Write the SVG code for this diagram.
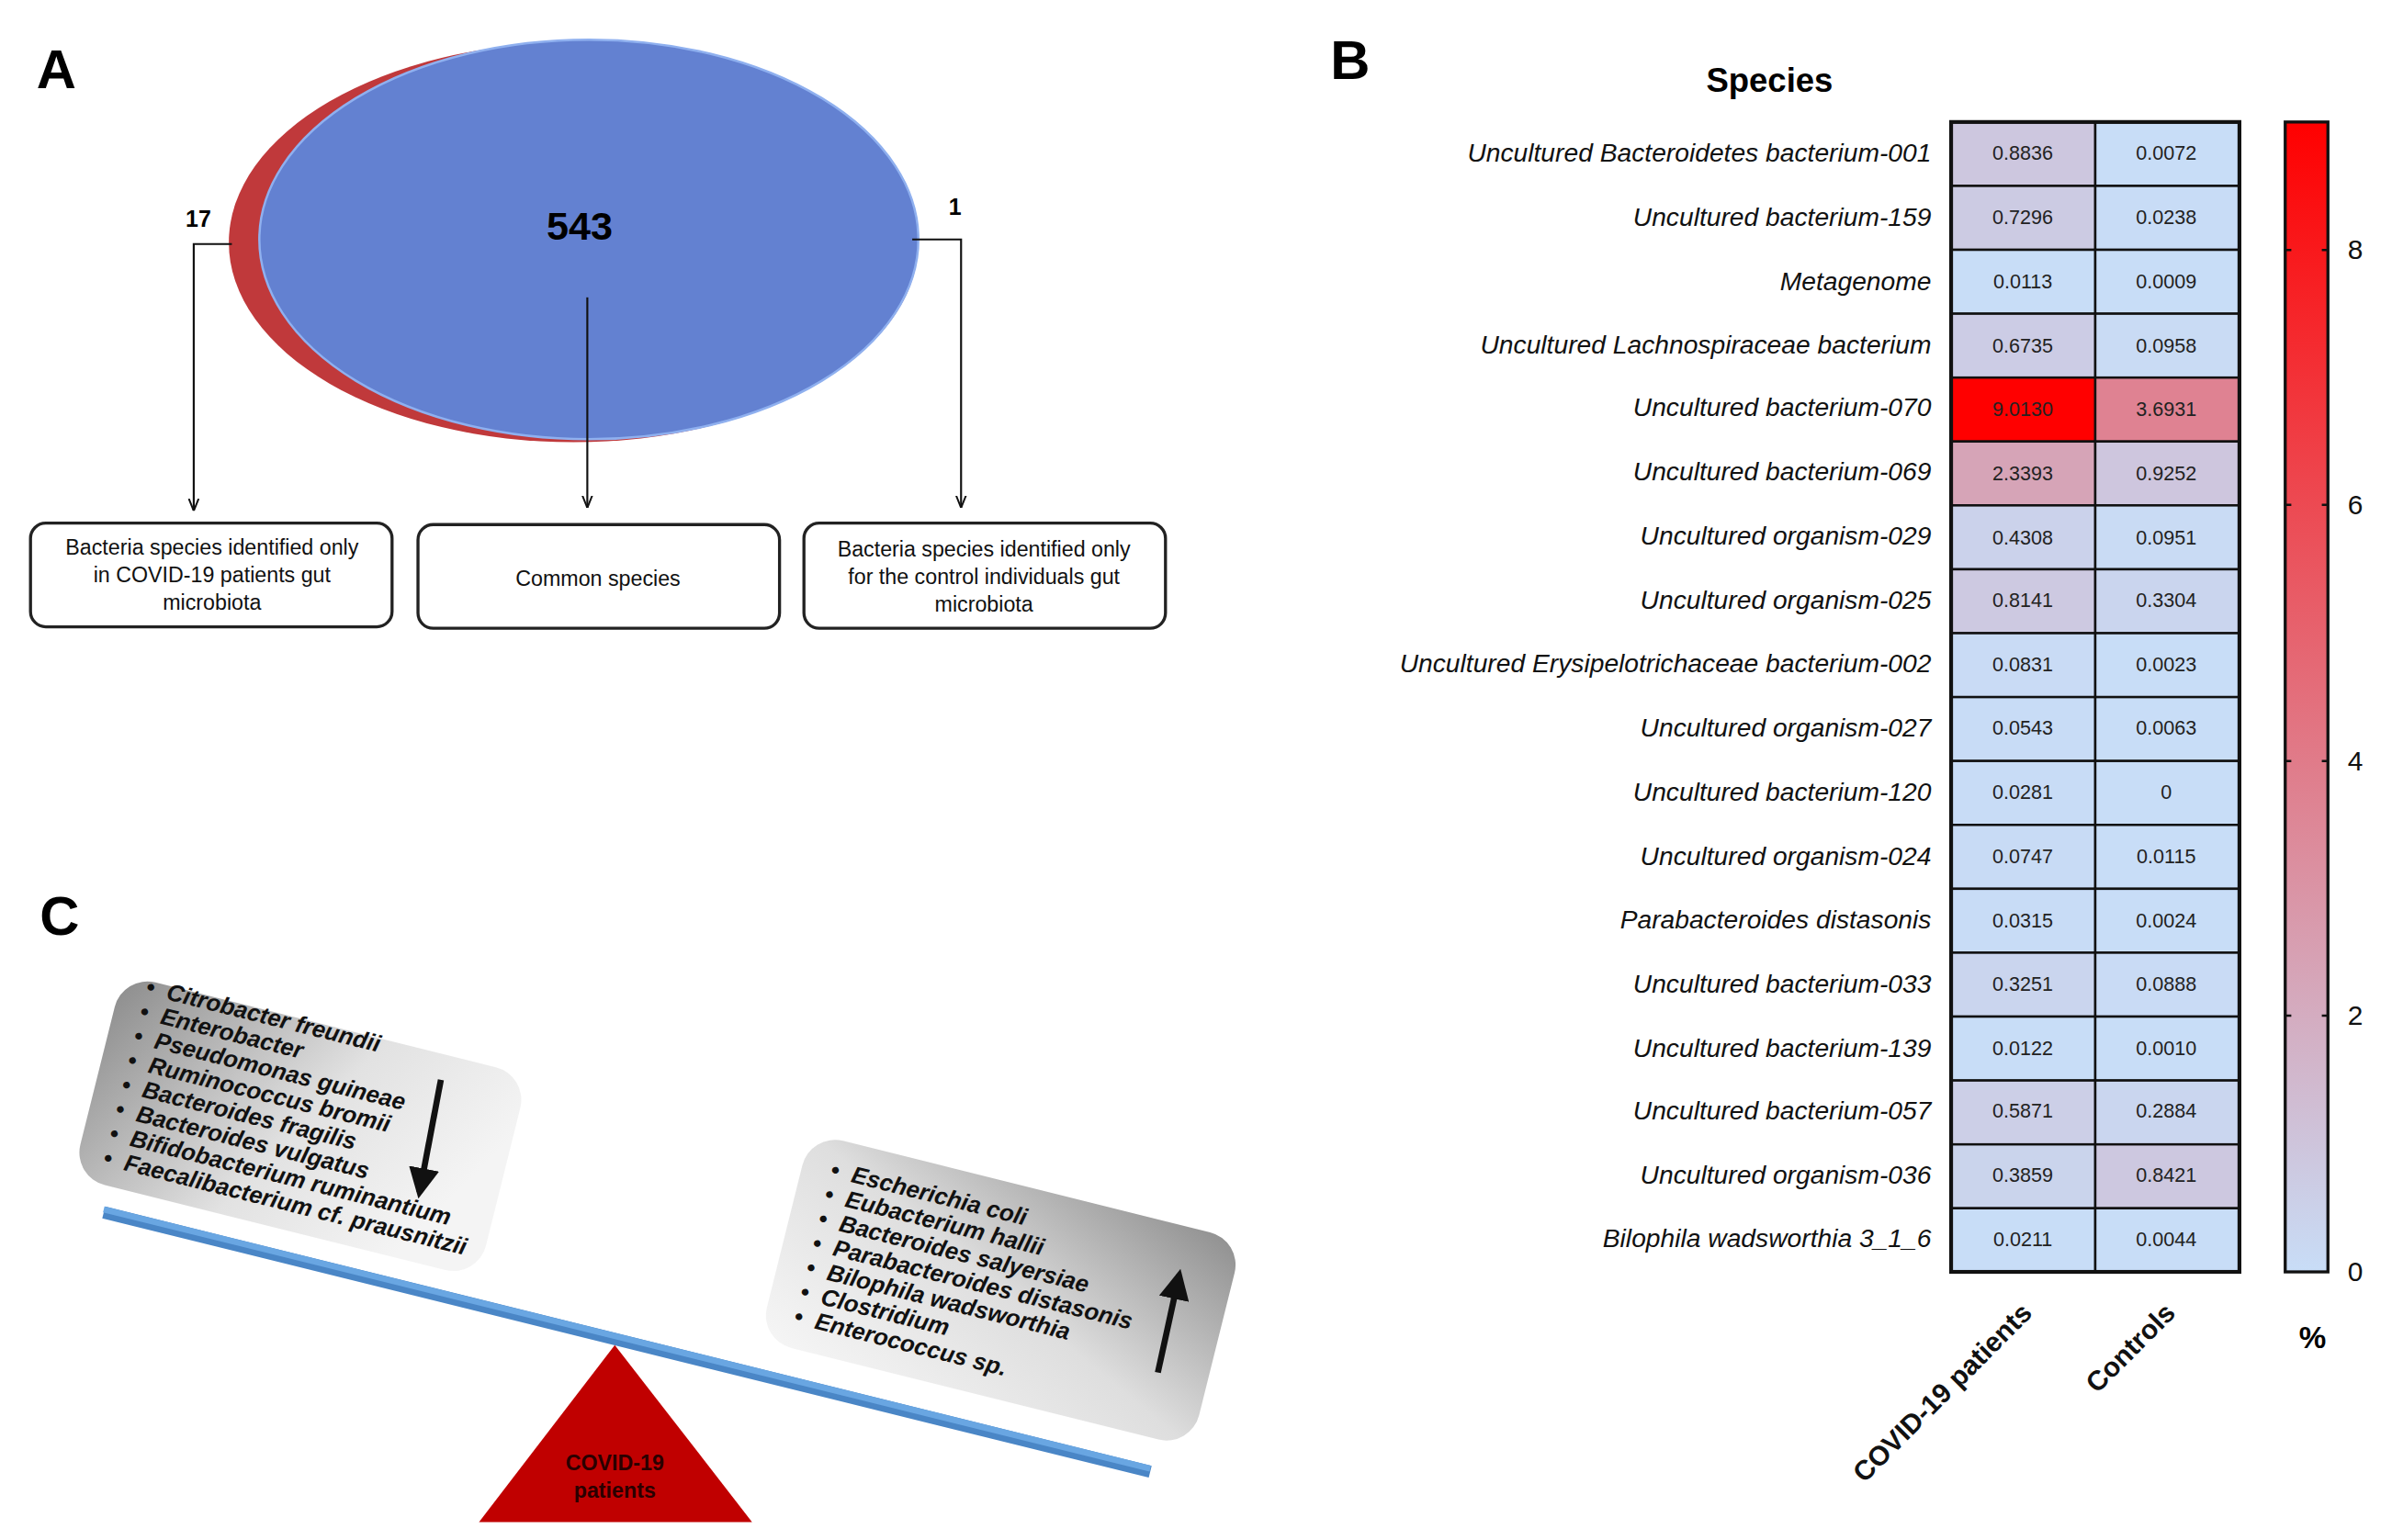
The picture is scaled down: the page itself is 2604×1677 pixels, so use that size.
<svg xmlns="http://www.w3.org/2000/svg" width="2604" height="1677" viewBox="0 0 2604 1677">
<defs>
<style>
.pl{font-family:"Liberation Sans",Arial,sans-serif;font-weight:bold;font-size:36px;fill:#000}
.bx{fill:#fff;stroke:#222;stroke-width:2}
.bt{font-family:"Liberation Sans Narrow","Liberation Sans",sans-serif;font-size:14px;text-anchor:middle;fill:#111}
.ln{stroke:#111;stroke-width:1.3;fill:none}
.sp{font-family:"Liberation Sans",Arial,sans-serif;font-style:italic;font-size:17px;text-anchor:end;fill:#111}
.cv{font-family:"Liberation Sans Narrow","Liberation Sans",sans-serif;font-size:13px;text-anchor:middle;fill:#222}
.cell{stroke:#111;stroke-width:1.5}
.ct{font-family:"Liberation Sans",Arial,sans-serif;font-weight:bold;font-size:18px;text-anchor:end;fill:#111}
.tk{font-family:"Liberation Sans",Arial,sans-serif;font-size:18px;fill:#111}
.ci{font-family:"Liberation Sans Narrow","Liberation Sans",sans-serif;font-weight:bold;font-style:italic;font-size:15.5px;fill:#111}
</style>
<marker id="ah" viewBox="0 0 10 10" refX="10" refY="5" markerWidth="8" markerHeight="8" orient="auto" markerUnits="userSpaceOnUse"><path d="M0,1 L10,5 L0,9" fill="none" stroke="#111" stroke-width="1.5"/></marker>
<marker id="bh" viewBox="0 0 10 10" refX="8" refY="5" markerWidth="5" markerHeight="5" orient="auto"><path d="M0,0 L10,5 L0,10 z" fill="#111"/></marker>
<linearGradient id="cb" x1="0" y1="1" x2="0" y2="0"><stop offset="0" stop-color="#c8ddf7"/><stop offset="0.26" stop-color="#d6a4b7"/><stop offset="1" stop-color="#ff0000"/></linearGradient>
<linearGradient id="gl" x1="0" y1="0" x2="1" y2="0.3"><stop offset="0" stop-color="#8c8c8c"/><stop offset="0.6" stop-color="#e2e2e2"/><stop offset="1" stop-color="#f4f4f4"/></linearGradient>
<linearGradient id="gr" x1="0" y1="1" x2="1" y2="0"><stop offset="0" stop-color="#f6f6f6"/><stop offset="0.5" stop-color="#dedede"/><stop offset="1" stop-color="#8e8e8e"/></linearGradient>
</defs>
<g transform="scale(1.66071)">
<rect x="0" y="0" width="1568" height="1010" fill="#fff"/>
<!-- Panel A -->
<g id="panelA">
<text class="pl" x="24" y="58">A</text>
<ellipse cx="376" cy="159" rx="226" ry="131" fill="#c0393b"/>
<ellipse cx="386" cy="157" rx="216" ry="131" fill="#6381d1" stroke="#8fb0ef" stroke-width="1.5"/>
<text x="380" y="157" font-family="Liberation Sans Narrow,Liberation Sans,sans-serif" font-weight="bold" font-size="26" text-anchor="middle">543</text>
<text x="130" y="149" font-family="Liberation Sans Narrow,Liberation Sans,sans-serif" font-weight="bold" font-size="15" text-anchor="middle">17</text>
<text x="626" y="141" font-family="Liberation Sans Narrow,Liberation Sans,sans-serif" font-weight="bold" font-size="15" text-anchor="middle">1</text>
</g>
<g id="connectorsA">
<path class="ln" d="M152,160 H127 V335" marker-end="url(#ah)"/>
<path class="ln" d="M385,195 V333" marker-end="url(#ah)"/>
<path class="ln" d="M598,157 H630 V333" marker-end="url(#ah)"/>
</g>
<g id="boxCovid"><rect class="bx" x="20" y="343" width="237" height="68" rx="10"/>
<text class="bt" x="139" y="364">Bacteria species identified only</text><text class="bt" x="139" y="382">in COVID-19 patients gut</text><text class="bt" x="139" y="400">microbiota</text></g>
<g id="boxCommon"><rect class="bx" x="274" y="344" width="237" height="68" rx="10"/>
<text class="bt" x="392" y="384">Common species</text></g>
<g id="boxControl"><rect class="bx" x="527" y="343" width="237" height="69" rx="10"/>
<text class="bt" x="645" y="365">Bacteria species identified only</text><text class="bt" x="645" y="383">for the control individuals gut</text><text class="bt" x="645" y="401">microbiota</text></g>
<!-- Panel B -->
<g id="panelB">
<text class="pl" x="872" y="52">B</text>
<text x="1160" y="60" font-family="Liberation Sans Narrow,Liberation Sans,sans-serif" font-weight="bold" font-size="22" text-anchor="middle">Species</text>
<g id="labels">
<text class="sp" x="1266" y="106">Uncultured Bacteroidetes bacterium-001</text>
<text class="sp" x="1266" y="148">Uncultured bacterium-159</text>
<text class="sp" x="1266" y="190">Metagenome</text>
<text class="sp" x="1266" y="232">Uncultured Lachnospiraceae bacterium</text>
<text class="sp" x="1266" y="273">Uncultured bacterium-070</text>
<text class="sp" x="1266" y="315">Uncultured bacterium-069</text>
<text class="sp" x="1266" y="357">Uncultured organism-029</text>
<text class="sp" x="1266" y="399">Uncultured organism-025</text>
<text class="sp" x="1266" y="441">Uncultured Erysipelotrichaceae bacterium-002</text>
<text class="sp" x="1266" y="483">Uncultured organism-027</text>
<text class="sp" x="1266" y="525">Uncultured bacterium-120</text>
<text class="sp" x="1266" y="567">Uncultured organism-024</text>
<text class="sp" x="1266" y="609">Parabacteroides distasonis</text>
<text class="sp" x="1266" y="651">Uncultured bacterium-033</text>
<text class="sp" x="1266" y="693">Uncultured bacterium-139</text>
<text class="sp" x="1266" y="734">Uncultured bacterium-057</text>
<text class="sp" x="1266" y="776">Uncultured organism-036</text>
<text class="sp" x="1266" y="818">Bilophila wadsworthia 3_1_6</text>
</g>
<g id="cells">
<rect class="cell" x="1279" y="80" width="94.5" height="41.9" fill="rgb(205,199,223)"/><rect class="cell" x="1373.5" y="80" width="94.5" height="41.9" fill="rgb(200,221,247)"/>
<rect class="cell" x="1279" y="121.9" width="94.5" height="41.9" fill="rgb(204,203,227)"/><rect class="cell" x="1373.5" y="121.9" width="94.5" height="41.9" fill="rgb(200,220,246)"/>
<rect class="cell" x="1279" y="163.8" width="94.5" height="41.9" fill="rgb(200,221,247)"/><rect class="cell" x="1373.5" y="163.8" width="94.5" height="41.9" fill="rgb(200,221,247)"/>
<rect class="cell" x="1279" y="205.7" width="94.5" height="41.9" fill="rgb(204,204,229)"/><rect class="cell" x="1373.5" y="205.7" width="94.5" height="41.9" fill="rgb(201,219,244)"/>
<rect class="cell" x="1279" y="247.6" width="94.5" height="41.9" fill="rgb(255,0,0)"/><rect class="cell" x="1373.5" y="247.6" width="94.5" height="41.9" fill="rgb(223,130,146)"/>
<rect class="cell" x="1279" y="289.5" width="94.5" height="41.9" fill="rgb(214,164,183)"/><rect class="cell" x="1373.5" y="289.5" width="94.5" height="41.9" fill="rgb(206,198,222)"/>
<rect class="cell" x="1279" y="331.4" width="94.5" height="41.9" fill="rgb(203,210,235)"/><rect class="cell" x="1373.5" y="331.4" width="94.5" height="41.9" fill="rgb(201,219,244)"/>
<rect class="cell" x="1279" y="373.3" width="94.5" height="41.9" fill="rgb(205,201,225)"/><rect class="cell" x="1373.5" y="373.3" width="94.5" height="41.9" fill="rgb(202,213,238)"/>
<rect class="cell" x="1279" y="415.2" width="94.5" height="41.9" fill="rgb(201,219,245)"/><rect class="cell" x="1373.5" y="415.2" width="94.5" height="41.9" fill="rgb(200,221,247)"/>
<rect class="cell" x="1279" y="457.1" width="94.5" height="41.9" fill="rgb(200,220,246)"/><rect class="cell" x="1373.5" y="457.1" width="94.5" height="41.9" fill="rgb(200,221,247)"/>
<rect class="cell" x="1279" y="499" width="94.5" height="41.9" fill="rgb(200,220,246)"/><rect class="cell" x="1373.5" y="499" width="94.5" height="41.9" fill="rgb(200,221,247)"/>
<rect class="cell" x="1279" y="540.9" width="94.5" height="41.9" fill="rgb(200,219,245)"/><rect class="cell" x="1373.5" y="540.9" width="94.5" height="41.9" fill="rgb(200,221,247)"/>
<rect class="cell" x="1279" y="582.8" width="94.5" height="41.9" fill="rgb(200,220,246)"/><rect class="cell" x="1373.5" y="582.8" width="94.5" height="41.9" fill="rgb(200,221,247)"/>
<rect class="cell" x="1279" y="624.7" width="94.5" height="41.9" fill="rgb(202,213,238)"/><rect class="cell" x="1373.5" y="624.7" width="94.5" height="41.9" fill="rgb(201,219,245)"/>
<rect class="cell" x="1279" y="666.6" width="94.5" height="41.9" fill="rgb(200,221,247)"/><rect class="cell" x="1373.5" y="666.6" width="94.5" height="41.9" fill="rgb(200,221,247)"/>
<rect class="cell" x="1279" y="708.5" width="94.5" height="41.9" fill="rgb(204,207,231)"/><rect class="cell" x="1373.5" y="708.5" width="94.5" height="41.9" fill="rgb(202,214,239)"/>
<rect class="cell" x="1279" y="750.4" width="94.5" height="41.9" fill="rgb(202,212,236)"/><rect class="cell" x="1373.5" y="750.4" width="94.5" height="41.9" fill="rgb(205,200,224)"/>
<rect class="cell" x="1279" y="792.3" width="94.5" height="41.9" fill="rgb(200,221,247)"/><rect class="cell" x="1373.5" y="792.3" width="94.5" height="41.9" fill="rgb(200,221,247)"/>
<rect x="1279" y="80" width="189" height="754" fill="none" stroke="#111" stroke-width="2.5"/>
</g>
<g id="values">
<text class="cv" x="1326" y="105">0.8836</text><text class="cv" x="1420" y="105">0.0072</text>
<text class="cv" x="1326" y="147">0.7296</text><text class="cv" x="1420" y="147">0.0238</text>
<text class="cv" x="1326" y="189">0.0113</text><text class="cv" x="1420" y="189">0.0009</text>
<text class="cv" x="1326" y="231">0.6735</text><text class="cv" x="1420" y="231">0.0958</text>
<text class="cv" x="1326" y="273">9.0130</text><text class="cv" x="1420" y="273">3.6931</text>
<text class="cv" x="1326" y="315">2.3393</text><text class="cv" x="1420" y="315">0.9252</text>
<text class="cv" x="1326" y="357">0.4308</text><text class="cv" x="1420" y="357">0.0951</text>
<text class="cv" x="1326" y="398">0.8141</text><text class="cv" x="1420" y="398">0.3304</text>
<text class="cv" x="1326" y="440">0.0831</text><text class="cv" x="1420" y="440">0.0023</text>
<text class="cv" x="1326" y="482">0.0543</text><text class="cv" x="1420" y="482">0.0063</text>
<text class="cv" x="1326" y="524">0.0281</text><text class="cv" x="1420" y="524">0</text>
<text class="cv" x="1326" y="566">0.0747</text><text class="cv" x="1420" y="566">0.0115</text>
<text class="cv" x="1326" y="608">0.0315</text><text class="cv" x="1420" y="608">0.0024</text>
<text class="cv" x="1326" y="650">0.3251</text><text class="cv" x="1420" y="650">0.0888</text>
<text class="cv" x="1326" y="692">0.0122</text><text class="cv" x="1420" y="692">0.0010</text>
<text class="cv" x="1326" y="733">0.5871</text><text class="cv" x="1420" y="733">0.2884</text>
<text class="cv" x="1326" y="775">0.3859</text><text class="cv" x="1420" y="775">0.8421</text>
<text class="cv" x="1326" y="817">0.0211</text><text class="cv" x="1420" y="817">0.0044</text>
</g>
<text class="ct" transform="translate(1333,862) rotate(-45)">COVID-19 patients</text>
<text class="ct" transform="translate(1427,862) rotate(-45)">Controls</text>
<g id="colorbar">
<rect x="1498" y="80" width="28" height="754" fill="url(#cb)" stroke="#111" stroke-width="2"/>
<g stroke="#111" stroke-width="1.5">
<path d="M1498,164h4M1522,164h4M1498,331h4M1522,331h4M1498,499h4M1522,499h4M1498,666h4M1522,666h4"/>
</g>
<text class="tk" x="1539" y="170">8</text><text class="tk" x="1539" y="337">6</text><text class="tk" x="1539" y="505">4</text><text class="tk" x="1539" y="672">2</text><text class="tk" x="1539" y="840">0</text>
<text x="1516" y="884" font-family="Liberation Sans,sans-serif" font-weight="bold" font-size="20" text-anchor="middle">%</text>
</g>
</g>
<!-- Panel C -->
<g id="panelC">
<text class="pl" x="26" y="613">C</text>
<line x1="68" y1="795" x2="754" y2="965" stroke="#4a86c6" stroke-width="8"/>
<line x1="68" y1="793" x2="754" y2="963" stroke="#69a6e2" stroke-width="4"/>
<polygon points="403,882 314,998 493,998" fill="#c00000"/>
<text x="403" y="964" font-family="Liberation Sans Narrow,Liberation Sans,sans-serif" font-weight="bold" font-size="14" text-anchor="middle" fill="#2a0000">COVID-19</text>
<text x="403" y="982" font-family="Liberation Sans Narrow,Liberation Sans,sans-serif" font-weight="bold" font-size="14" text-anchor="middle" fill="#2a0000">patients</text>
<g id="leftBox" transform="translate(197,738) rotate(14)">
<rect x="-137" y="-68" width="274" height="137" rx="22" fill="url(#gl)"/>
<g class="ci">
<text x="-120" y="-59">•</text><text x="-106" y="-59">Citrobacter freundii</text>
<text x="-120" y="-42.5">•</text><text x="-106" y="-42.5">Enterobacter</text>
<text x="-120" y="-26">•</text><text x="-106" y="-26">Pseudomonas guineae</text>
<text x="-120" y="-9.5">•</text><text x="-106" y="-9.5">Ruminococcus bromii</text>
<text x="-120" y="7">•</text><text x="-106" y="7">Bacteroides fragilis</text>
<text x="-120" y="23.5">•</text><text x="-106" y="23.5">Bacteroides vulgatus</text>
<text x="-120" y="40">•</text><text x="-106" y="40">Bifidobacterium ruminantium</text>
<text x="-120" y="56.5">•</text><text x="-106" y="56.5">Faecalibacterium cf. prausnitzii</text>
</g>
</g>
<line x1="289" y1="708" x2="275" y2="782" stroke="#111" stroke-width="4" marker-end="url(#bh)"/>
<g id="rightBox" transform="translate(656,846) rotate(14)">
<rect x="-146" y="-70" width="292" height="140" rx="22" fill="url(#gr)"/>
<g class="ci">
<text x="-127" y="-45">•</text><text x="-113" y="-45">Escherichia coli</text>
<text x="-127" y="-28.5">•</text><text x="-113" y="-28.5">Eubacterium hallii</text>
<text x="-127" y="-12">•</text><text x="-113" y="-12">Bacteroides salyersiae</text>
<text x="-127" y="4.5">•</text><text x="-113" y="4.5">Parabacteroides distasonis</text>
<text x="-127" y="21">•</text><text x="-113" y="21">Bilophila wadsworthia</text>
<text x="-127" y="37.5">•</text><text x="-113" y="37.5">Clostridium</text>
<text x="-127" y="54">•</text><text x="-113" y="54">Enterococcus sp.</text>
</g>
</g>
<line x1="759" y1="900" x2="773" y2="836" stroke="#111" stroke-width="4" marker-end="url(#bh)"/>
</g>
</g>
</svg>
